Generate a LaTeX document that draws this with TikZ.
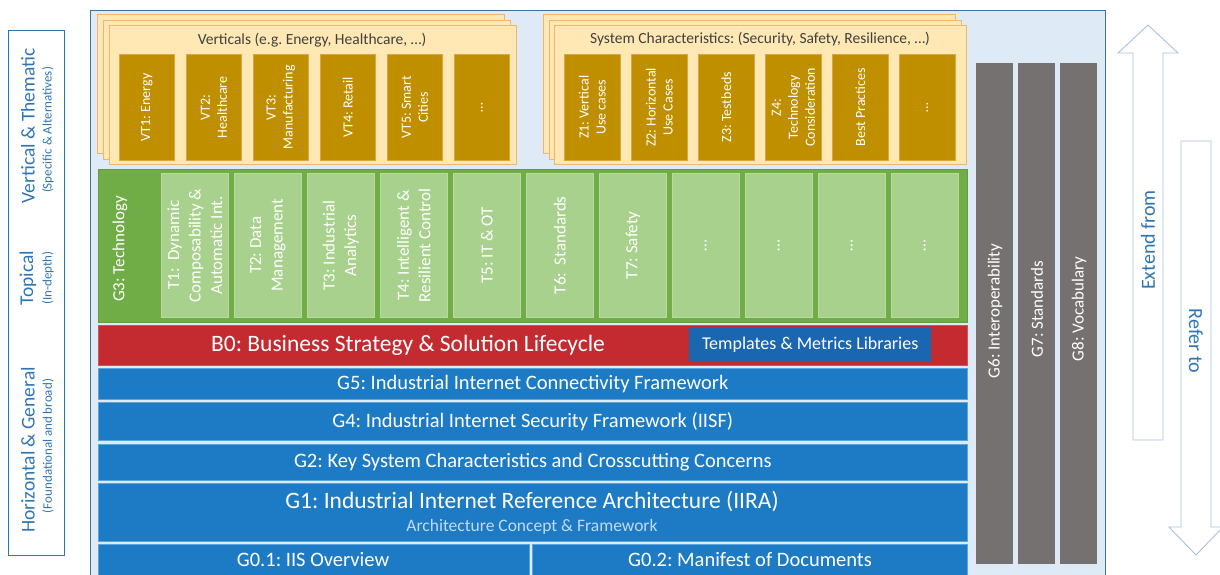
\documentclass[tikz,border=0pt]{standalone}
\usepackage{fontspec}
\setmainfont{Carlito}
\frenchspacing
\definecolor{bgblue}{HTML}{DEEBF7}
\definecolor{frameblue}{HTML}{41719C}
\definecolor{labelblue}{HTML}{2E75B6}
\definecolor{cardfill}{HTML}{FFE8B4}
\definecolor{cardline}{HTML}{F2B56B}
\definecolor{gold}{HTML}{BF8F00}
\definecolor{goldline}{HTML}{D9A845}
\definecolor{techgreen}{HTML}{70AD47}
\definecolor{topicgreen}{HTML}{A9D18E}
\definecolor{topicline}{HTML}{B9DBA1}
\definecolor{bizred}{HTML}{C42B31}
\definecolor{bandblue}{HTML}{1C7BC4}
\definecolor{bandline}{HTML}{5AA5DE}
\definecolor{tplblue}{HTML}{1A66B0}
\definecolor{subblue}{HTML}{C2DAF0}
\definecolor{pillargray}{HTML}{767171}
\definecolor{arrowline}{HTML}{A9C1DC}
\definecolor{cardtext}{HTML}{404040}
\begin{document}
\begin{tikzpicture}[x=1pt,y=-1pt]

    \tikzset{
      card/.style={draw=cardline, fill=cardfill, line width=0.8pt, inner sep=0pt,
        anchor=north west, minimum width=407pt, minimum height=139pt},
      cardtitle/.style={text=cardtext, font=\fontsize{15.5}{18}\selectfont},
      goldbox/.style={draw=goldline, fill=gold, line width=0.6pt, inner sep=0pt,
        anchor=north west, minimum width=55pt, minimum height=106pt},
      goldtxt/.style={text=white, rotate=90, align=center, inner sep=0pt,
        font=\fontsize{14}{17}\selectfont},
      topicbox/.style={draw=topicline, fill=topicgreen, line width=0.6pt, inner sep=0pt,
        anchor=north west, minimum width=67pt, minimum height=144pt},
      topictxt/.style={text=white, rotate=90, align=center, inner sep=0pt,
        font=\fontsize{17}{21.5}\selectfont},
      band/.style={draw=bandline, fill=bandblue, line width=0.6pt, inner sep=0pt,
        anchor=north west, minimum width=869pt},
      bandtxt/.style={text=white, font=\fontsize{20.5}{24}\selectfont},
      pillar/.style={fill=pillargray, inner sep=0pt, anchor=north west,
        minimum width=37pt, minimum height=501pt},
      pillartxt/.style={text=white, rotate=90, font=\fontsize{17}{20}\selectfont},
      sidetxt/.style={text=labelblue, rotate=90, font=\fontsize{19.5}{22}\selectfont},
      sidesmall/.style={text=labelblue, rotate=90, font=\fontsize{13}{15}\selectfont},
      blockarrow/.style={draw=arrowline, fill=white, line width=0.9pt},
    }
    \useasboundingbox (0,0) rectangle (1220,574);
    \clip (0,0) rectangle (1220,574);

	% left legend
	\node[draw=labelblue, line width=0.9pt, inner sep=0pt, anchor=north west,
	  minimum width=56pt, minimum height=525pt] (legend) at (8,30) {};
	\node[sidetxt] (vt) at (28,126) {Vertical \& Thematic};
	\node[sidesmall] (vtsub) at (48,130) {(Specific \& Alternatives)};
	\node[sidetxt] (top) at (28,278) {Topical};
	\node[sidesmall] (topsub) at (48,278) {(In-depth)};
	\node[sidetxt] (hg) at (28,450) {Horizontal \& General};
	\node[sidesmall] (hgsub) at (48,446) {(Foundational and broad)};

	% background
	\draw[frameblue, fill=bgblue, line width=0.9pt] (90,10) rectangle (1105,590);

	% verticals
	\node[card] (vc3) at (97,14) {};
	\node[card] (vc2) at (103,19.5) {};
	\node[card] (vc1) at (109,25) {};
	\node[cardtitle] (vtitle) at (312,40) {Verticals (e.g. Energy, Healthcare, …)};
	\foreach \lbl [count=\i] in {{VT1: Energy}, {VT2:\\Healthcare}, {VT3:\\Manufacturing},
	    {VT4: Retail}, {VT5: Smart\\Cities}, {…}} {
	  \node[goldbox] (vt\i) at ({119+67*(\i-1)},54) {};
	  \node[goldtxt] at (vt\i.center) {\lbl};
	}

	% system characteristics
	\node[card, minimum width=412pt] (zc3) at (543,14) {};
	\node[card, minimum width=412pt] (zc2) at (548.5,19.5) {};
	\node[card, minimum width=412pt] (zc1) at (554,25) {};
	\node[cardtitle] (ztitle) at (760,39) {System Characteristics: (Security, Safety, Resilience, …)};
	\foreach \lbl [count=\i] in {{Z1: Vertical\\Use cases}, {Z2: Horizontal\\Use Cases},
	    {Z3: Testbeds}, {Z4:\\Technology\\Consideration}, {Best Practices}, {…}} {
	  \node[goldbox, minimum width=56pt] (z\i) at ({564+67*(\i-1)},54) {};
	  \node[goldtxt] at (z\i.center) {\lbl};
	}

	% technology
	\node[fill=techgreen, draw=techgreen!90!black, line width=0.6pt, inner sep=0pt,
	  anchor=north west, minimum width=869pt, minimum height=153pt] (g3) at (98,169) {};
	\node[topictxt] (g3txt) at (120,249) {G3: Technology};
	\foreach \lbl [count=\i] in {{T1:~ Dynamic\\Composability \&\\Automatic Int.}, {T2: Data\\Management},
	    {T3: Industrial\\Analytics}, {T4: Intelligent \&\\Resilient Control}, {T5: IT \& OT},
	    {T6:~ Standards}, {T7: Safety}, {…}, {…}, {…}, {…}} {
	  \node[topicbox] (t\i) at ({161+73*(\i-1)},173) {};
	  \node[topictxt] at (t\i.center) {\lbl};
	}

	% business
	\node[fill=bizred, draw=bizred!80!white, line width=0.6pt, inner sep=0pt, anchor=north west,
	  minimum width=869pt, minimum height=40pt] (b0) at (98,325) {};
	\node[text=white, font=\fontsize{23.5}{27}\selectfont] (b0txt) at (408,345)
	  {B0: Business Strategy \& Solution Lifecycle};
	\node[fill=tplblue, inner sep=0pt, anchor=north west, minimum width=242pt,
	  minimum height=35pt, text=white, font=\fontsize{18}{21}\selectfont] (tpl) at (689,327)
	  {Templates \& Metrics Libraries};

	% general bands
	\node[band, minimum height=31pt] (g5) at (98,368) {};
	\node[bandtxt] at (g5.center) {G5: Industrial Internet Connectivity Framework};
	\node[band, minimum height=38pt] (g4) at (98,402) {};
	\node[bandtxt] at (g4.center) {G4: Industrial Internet Security Framework (IISF)};
	\node[band, minimum height=36pt] (g2) at (98,444) {};
	\node[bandtxt] at (g2.center) {G2: Key System Characteristics and Crosscutting Concerns};
	\node[band, minimum height=58pt] (g1) at (98,483) {};
	\node[text=white, font=\fontsize{23.5}{27}\selectfont] (g1txt) at (532,502)
	  {G1: Industrial Internet Reference Architecture (IIRA)};
	\node[text=subblue, font=\fontsize{17.5}{20}\selectfont] (g1sub) at (532,527)
	  {Architecture Concept \& Framework};
	\node[band, minimum width=431pt, minimum height=40pt] (g01) at (98,544) {};
	\node[bandtxt] at (313,560) {G0.1: IIS Overview};
	\node[band, minimum width=435pt, minimum height=40pt] (g02) at (532,544) {};
	\node[bandtxt] at (750,560) {G0.2: Manifest of Documents};

	% crosscutting pillars
	\node[pillar] (g6) at (976,63) {};
	\node[pillartxt] at (995,311) {G6: Interoperability};
	\node[pillar] (g7) at (1018,63) {};
	\node[pillartxt] at (1037,309) {G7: Standards};
	\node[pillar] (g8) at (1060,63) {};
	\node[pillartxt] at (1079,309) {G8: Vocabulary};

	% arrows
	\draw[blockarrow] (1148,25)--(1178,53)--(1163,53)--(1163,440)--(1133,440)--(1133,53)--(1118,53)--cycle;
	\node[text=labelblue, rotate=90, font=\fontsize{20}{23}\selectfont] (ext) at (1148,240) {Extend from};
	\draw[blockarrow] (1196,555)--(1223,527)--(1211,527)--(1211,141)--(1181,141)--(1181,527)--(1169,527)--cycle;
	\node[text=labelblue, rotate=-90, font=\fontsize{20}{23}\selectfont] (ref) at (1196,341) {Refer to};

\end{tikzpicture}
\end{document}
